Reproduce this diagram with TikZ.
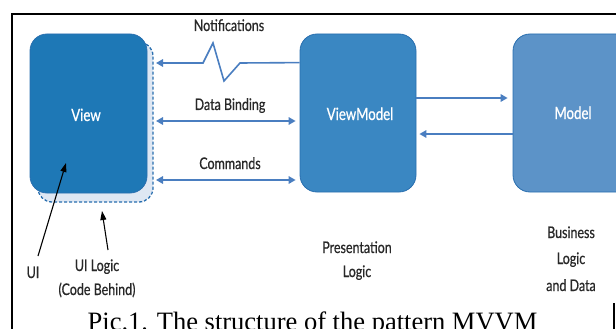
\documentclass[tikz,border=0pt]{standalone}
\usepackage{fontspec}
\setmainfont{Liberation Serif}
\newfontfamily\labfont{Lato}[FakeStretch=0.78,FakeBold=0.6]
\usetikzlibrary{arrows.meta}
\definecolor{viewblue}{RGB}{30,120,182}
\definecolor{vmblue}{RGB}{58,135,194}
\definecolor{modelblue}{RGB}{92,147,200}
\definecolor{flowblue}{RGB}{74,126,192}
\definecolor{paleblue}{RGB}{222,231,243}
\definecolor{edgeblue}{RGB}{40,110,175}
\definecolor{txtgray}{RGB}{40,40,40}
\tikzset{
  layerbox/.style={rounded corners=17pt, draw=edgeblue, line width=0.8pt,
    inner sep=0pt},
  boxtext/.style={anchor=base, text=white, inner sep=0pt,
    font=\labfont\fontsize{17}{20}\selectfont},
  flow/.style={draw=flowblue, line width=1.6pt,
    -{Triangle[length=7pt,width=7.5pt]}},
  twoway/.style={draw=flowblue, line width=1.6pt,
    {Triangle[length=7pt,width=7.5pt]}-{Triangle[length=7pt,width=7.5pt]}},
  pointer/.style={draw=black, line width=1.1pt,
    -{Triangle[length=9pt,width=6pt]}},
  lab/.style={anchor=base, text=txtgray, inner sep=0pt,
    font=\labfont\fontsize{16}{19}\selectfont},
  frameline/.style={draw=black, line width=1.3pt}
}
\begin{document}
\begin{tikzpicture}[x=1pt,y=-1pt]
  \useasboundingbox (0,0) rectangle (616,329);
  \clip (0,0) rectangle (616,329);

  % page frame
  \draw[frameline] (12,329) -- (12,14) -- (616,14);
  \draw[black, line width=2pt] (12,14) -- (29,14);
  \draw[frameline] (614,303) -- (614,329);

  % code-behind layer under the view
  \node[fill=paleblue, draw=edgeblue, densely dashed, line width=1.3pt,
        rounded corners=14pt, minimum width=115pt, minimum height=160pt,
        inner sep=0pt] (logic) at (95.5,122) {};

  % the three layers
  \node[layerbox, fill=viewblue, minimum width=117pt, minimum height=159pt]
    (view) at (88.5,113.5) {};
  \node[layerbox, fill=vmblue, minimum width=116pt, minimum height=158pt]
    (vm) at (358,113) {};
  \node[layerbox, fill=modelblue, minimum width=120pt, minimum height=158pt]
    (model) at (573,113) {};
  \node[boxtext] (tView) at (86,121) {View};
  \node[boxtext] (tVM) at (360,120) {ViewModel};
  \node[boxtext] (tModel) at (573,119) {Model};

  % connectors between View and ViewModel
  \coordinate (nL) at (156,63);
  \coordinate (dL) at (156,121);
  \coordinate (cL) at (156,180);
  \draw[flow] ([yshift=-29pt]vm.north west) -- (240,63) -- (224,81)
      -- (213,43) -- (203,63) -- (nL);
  \draw[twoway] (dL) -- ([xshift=-4pt,yshift=-8pt]vm.west);
  \draw[twoway] (cL) -- ([xshift=-4pt,yshift=-67pt]vm.west);

  \node[lab] (tNotif) at (229,31) {Notifications};
  \node[lab] (tData) at (230,110) {Data Binding};
  \node[lab] (tCmd) at (230,169) {Commands};

  % connectors between ViewModel and Model
  \draw[flow] ([yshift=15pt]vm.east) -- ([xshift=-5pt]model.west |- 0,98);
  \draw[flow] (model.west |- 0,134) -- ([xshift=3pt]vm.east |- 0,134);

  % labels below the layers
  \node[lab] (ui) at (33,278) {UI};
  \node[lab] (uilogic1) at (97,271) {UI Logic};
  \node[lab] (uilogic2) at (97,295) {(Code Behind)};
  \node[lab] (pres1) at (357,253) {Presentation};
  \node[lab] (pres2) at (357,277) {Logic};
  \node[lab] (biz1) at (571,238) {Business};
  \node[lab] (biz2) at (571,264) {Logic};
  \node[lab] (biz3) at (571,291) {and Data};

  \coordinate (uiTail) at (38,256);
  \coordinate (uiTip) at (66,163);
  \coordinate (ulTail) at (108,250);
  \coordinate (ulTip) at (102,211);
  \draw[pointer] (uiTail) -- (uiTip);
  \draw[pointer] (ulTail) -- (ulTip);

  % caption
  \node[anchor=base, font=\fontsize{26.5}{30}\selectfont, inner sep=0pt]
    (cap) at (312.5,330) {Pic.1. The structure of the pattern MVVM};
\end{tikzpicture}
\end{document}
